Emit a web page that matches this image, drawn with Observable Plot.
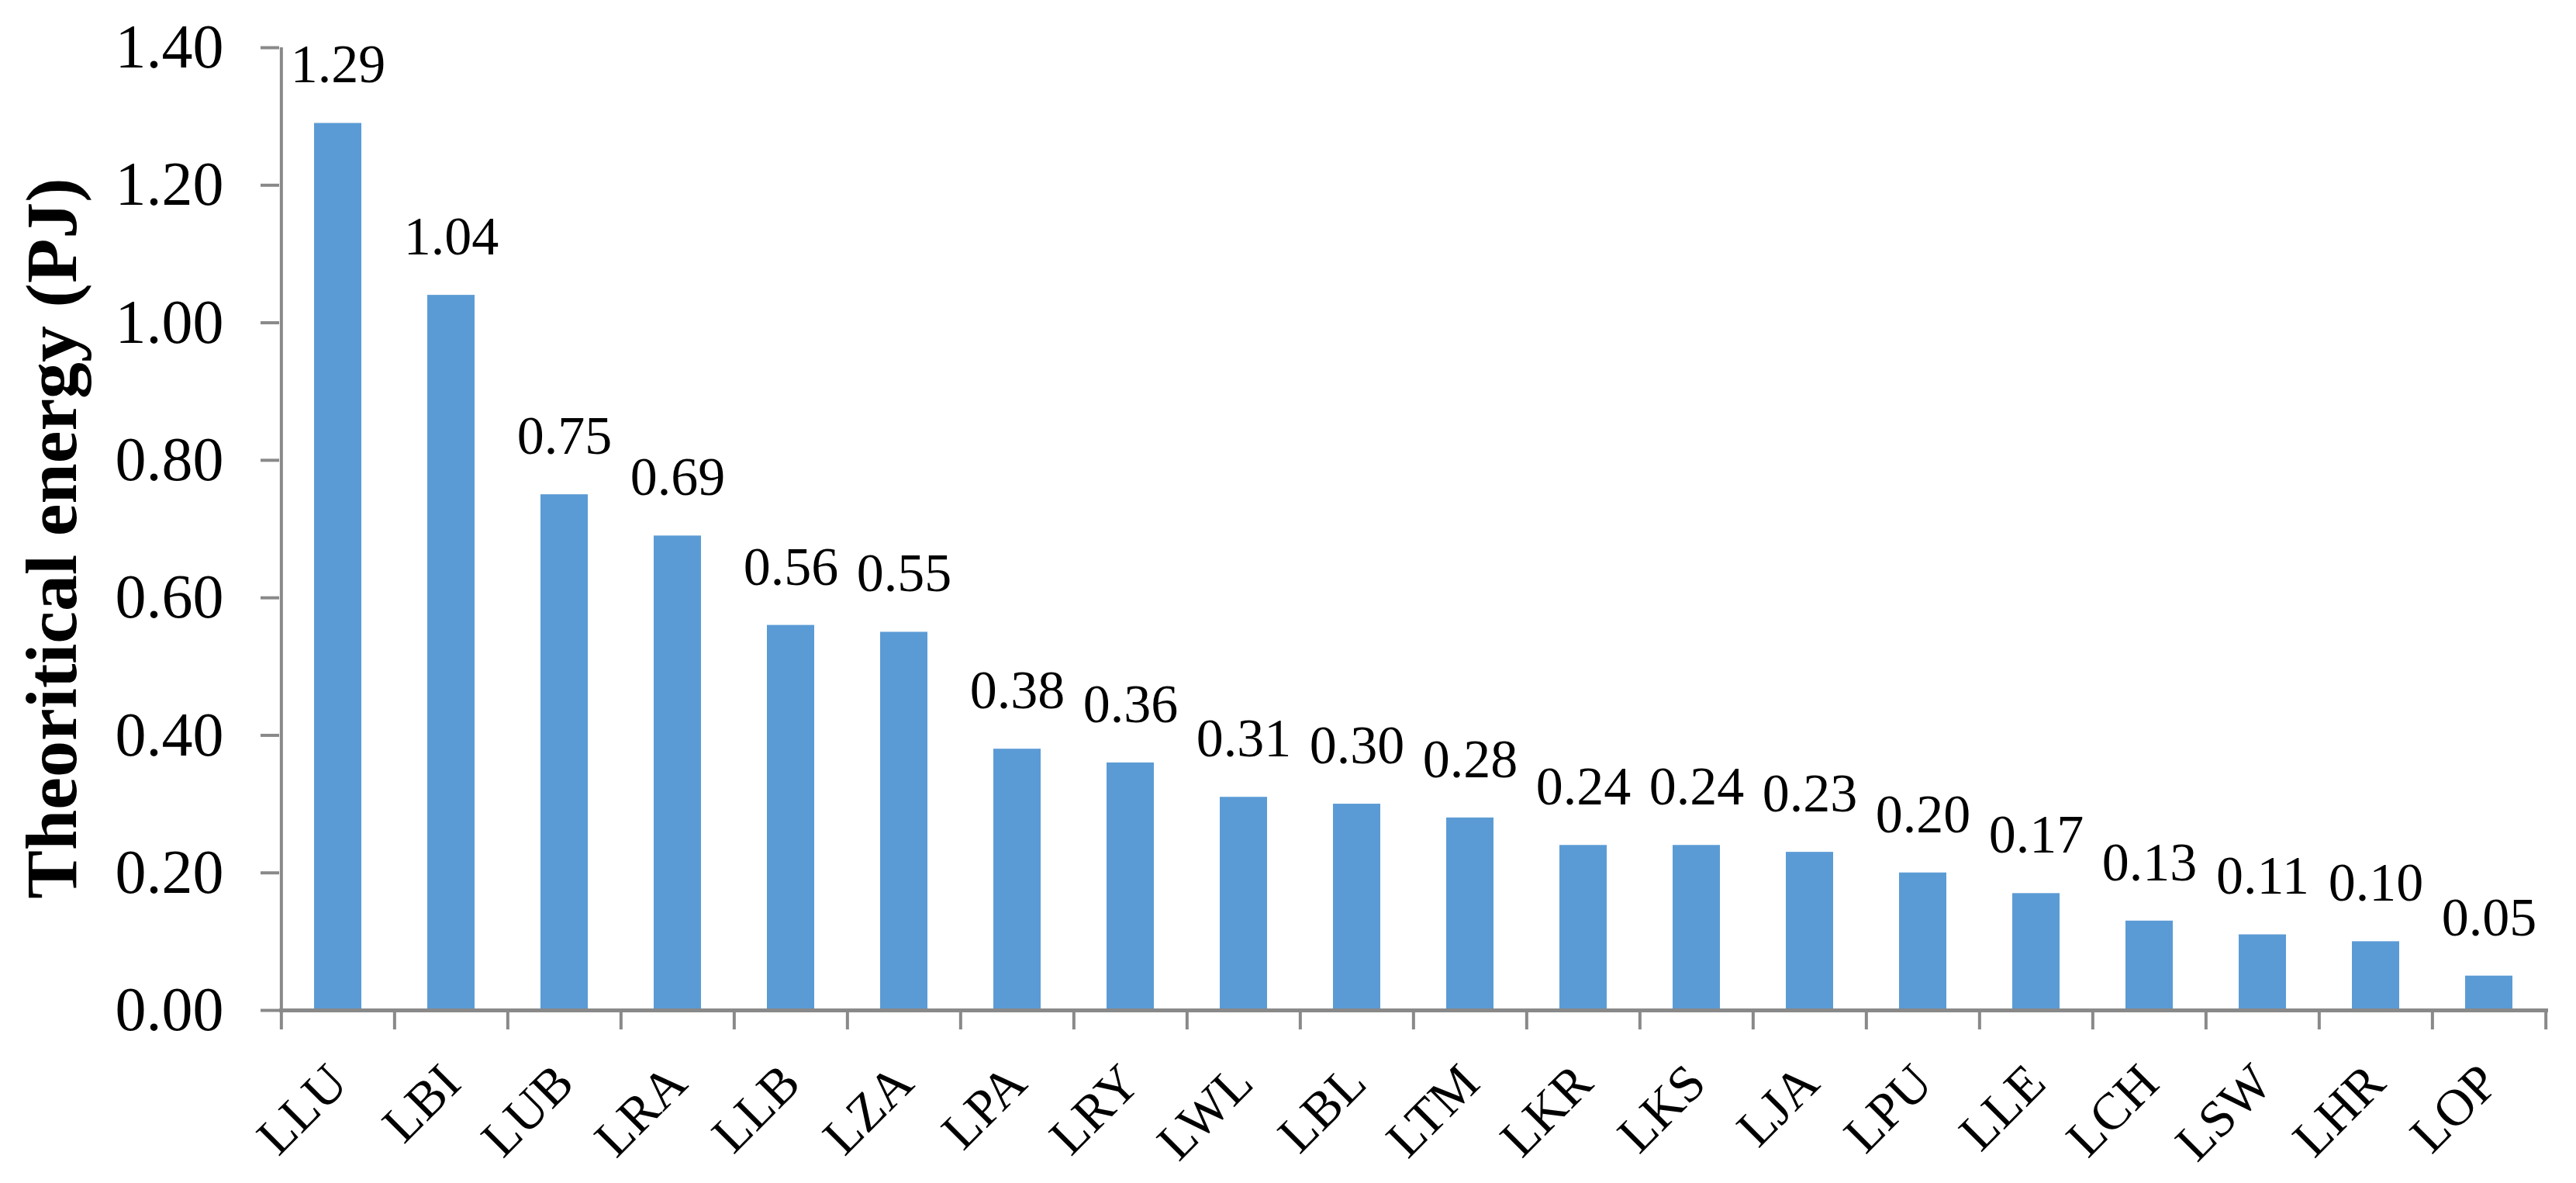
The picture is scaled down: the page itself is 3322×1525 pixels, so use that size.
<!DOCTYPE html>
<html>
<head>
<meta charset="utf-8">
<script src="https://cdn.jsdelivr.net/npm/d3@7"></script>
<script src="https://cdn.jsdelivr.net/npm/@observablehq/plot@0.6"></script>
<style>
  html, body { margin: 0; padding: 0; background: #ffffff; }
  #chart svg { display: block; }
</style>
</head>
<body>
<div id="chart"></div>
<script>
const categories = ["LLU","LBI","LUB","LRA","LLB","LZA","LPA","LRY","LWL","LBL","LTM","LKR","LKS","LJA","LPU","LLE","LCH","LSW","LHR","LOP"];
const values = [1.29,1.04,0.75,0.69,0.56,0.55,0.38,0.36,0.31,0.30,0.28,0.24,0.24,0.23,0.20,0.17,0.13,0.11,0.10,0.05];
const yTicks = [0,0.2,0.4,0.6,0.8,1.0,1.2,1.4];
const yTitle = "Theoritical energy (PJ)";

const data = categories.map((c, i) => ({site: c, energy: values[i]}));

const W = 3322, H = 1525;
const mL = 360, mR = 36, mT = 61, mB = 223;
const yMax = 1.4;
const step = (W - mL - mR) / categories.length;
const pxPerUnit = (H - mT - mB) / yMax;
const tickLen = 25;
const axisColor = "#898989";

const chart = Plot.plot({
  width: W,
  height: H,
  marginLeft: mL,
  marginRight: mR,
  marginTop: mT,
  marginBottom: mB,
  style: {fontFamily: "'Liberation Serif', 'Times New Roman', serif", background: "#ffffff", color: "#000000"},
  x: {domain: categories, paddingInner: 0.58, paddingOuter: 0.29, label: null},
  y: {domain: [0, yMax], label: null},
  marks: [
    Plot.barY(data, {x: "site", y: "energy", fill: "#5B9BD5"}),
    Plot.ruleY([0], {stroke: axisColor, strokeWidth: 5}),
    Plot.ruleX(categories, {x: d => d, y1: 0, y2: -tickLen / pxPerUnit, dx: -step / 2, stroke: axisColor, strokeWidth: 4}),
    Plot.ruleX([categories[categories.length - 1]], {x: d => d, y1: 0, y2: -tickLen / pxPerUnit, dx: step / 2, stroke: axisColor, strokeWidth: 4}),
    Plot.ruleX([categories[0]], {x: d => d, y1: 0, y2: yMax, dx: -step / 2, stroke: axisColor, strokeWidth: 4}),
    Plot.axisY({ticks: yTicks, tickFormat: d3.format(".2f"), tickSize: 24, tickPadding: 48, stroke: axisColor, strokeWidth: 4, fontSize: 80, label: null}),
    Plot.axisX({tickRotate: -45, tickSize: 0, tickPadding: 82, fontSize: 67, label: null}),
    Plot.text(data, {x: "site", y: "energy", text: d => d.energy.toFixed(2), dy: -75, fontSize: 70}),
    Plot.text([yTitle], {frameAnchor: "left", rotate: -90, textAnchor: "middle", dx: -293, dy: 12, fontSize: 94, fontWeight: "bold"})
  ]
});

document.getElementById("chart").appendChild(chart);
</script>
</body>
</html>
